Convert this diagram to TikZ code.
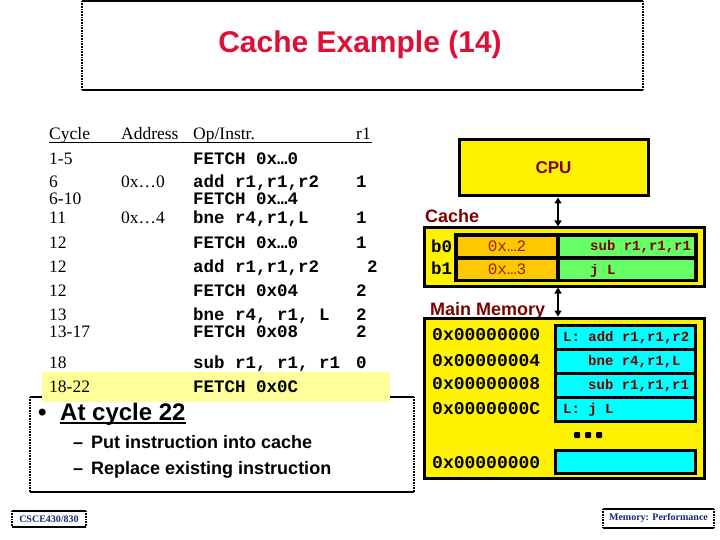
\documentclass[tikz,border=0pt]{standalone}
\usepackage{fontspec}
\setmainfont{Liberation Serif}
\setsansfont{Liberation Sans}
\setmonofont{Liberation Mono}
\usetikzlibrary{arrows.meta}
\definecolor{titlered}{RGB}{222,16,55}
\definecolor{darkmaroon}{RGB}{128,0,0}
\definecolor{tagred}{RGB}{150,35,10}
\definecolor{hlyellow}{RGB}{255,255,153}
\definecolor{tagorange}{RGB}{255,200,0}
\definecolor{datagreen}{RGB}{102,255,102}
\definecolor{memcyan}{RGB}{0,255,255}
\definecolor{footnavy}{RGB}{20,40,120}
\tikzset{
  ser/.style={anchor=base west, inner sep=0, font=\fontsize{17.5}{20}\selectfont},
  mon/.style={anchor=base west, inner sep=0, font=\fontsize{17.5}{20}\selectfont\ttfamily\bfseries},
  sidedot/.style={line width=1.6pt, dash pattern=on 0.8pt off 0.8pt},
  solidline/.style={line width=1.2pt},
  lbl/.style={anchor=base west, inner sep=0, font=\fontsize{18}{20}\selectfont\sffamily\bfseries, text=darkmaroon},
  addr/.style={anchor=base west, inner sep=0, font=\fontsize{18}{20}\selectfont\ttfamily\bfseries},
  celltxt/.style={anchor=base west, inner sep=0, font=\fontsize{14}{16}\selectfont\ttfamily\bfseries, text=darkmaroon},
  tagcell/.style={fill=tagorange, minimum width=98pt, minimum height=19pt, inner sep=0, font=\fontsize{16}{18}\selectfont\ttfamily, text=tagred},
  datacell/.style={fill=datagreen, minimum width=134pt, minimum height=19pt, inner sep=0},
  memcell/.style={draw, line width=3pt, fill=memcyan, minimum width=140pt, minimum height=24pt, inner sep=0, outer sep=0},
  bigbox/.style={draw, line width=3pt, fill=yellow, inner sep=0},
  busarrow/.style={{Triangle[length=6pt,width=7pt]}-{Triangle[length=6pt,width=7pt]}, line width=2.5pt},
  bul/.style={anchor=base west, inner sep=0, font=\fontsize{18}{20}\selectfont\sffamily\bfseries},
  foot/.style={inner sep=0, font=\fontsize{10}{12}\selectfont\rmfamily\bfseries, text=footnavy}
}
\begin{document}
\begin{tikzpicture}[x=1pt,y=-1pt]
\useasboundingbox (0,0) rectangle (720,540);

% ---------- title box ----------
\draw[solidline] (82,1) -- (643,1);
\draw[solidline] (82,90) -- (643,90);
\draw[sidedot] (82,1) -- (82,90);
\draw[sidedot] (643,1) -- (643,90);
\node[font=\fontsize{30}{33}\selectfont\sffamily\bfseries, text=titlered] (title) at (360,45) {Cache Example (14)};

% ---------- bullet text box ----------
\draw[solidline] (30,397) -- (414,397);
\draw[solidline] (30,492) -- (414,492);
\draw[sidedot] (30,397) -- (30,492);
\draw[sidedot] (414,397) -- (414,492);

% highlight
\fill[hlyellow] (42,372) rectangle (390,402);

\node[anchor=base west, inner sep=0, font=\fontsize{24}{26}\selectfont\sffamily\bfseries] (dot) at (38,420) {•};
\node[anchor=base west, inner sep=0, font=\fontsize{24}{26}\selectfont\sffamily\bfseries] (atc) at (60,420) {At cycle 22};
\draw[line width=1.4pt] (atc.base west) ++(0,3) -- ([yshift=-3pt]atc.base east);
\node[bul] (d1) at (73,448) {–};
\node[bul] (t1) at (91,448) {Put instruction into cache};
\node[bul] (d2) at (73,474) {–};
\node[bul] (t2) at (91,474) {Replace existing instruction};

% ---------- table ----------
\node[ser] (hc) at (49,140) {Cycle};
\node[ser] (ha) at (121,140) {Address};
\node[ser] (ho) at (193,140) {Op/Instr.};
\node[ser] (hr) at (356,140) {r1};
\draw[line width=1pt] (49,143) -- (372,143);

\node[ser] (c1) at (49,165) {1-5};
\node[mon] (o1) at (193,165) {FETCH 0x…0};

\node[ser] (c2) at (49,188) {6};
\node[ser] (a2) at (121,188) {0x…0};
\node[mon] (o2) at (193,188) {add r1,r1,r2};
\node[mon] (r2) at (356,188) {1};

\node[ser] (c3) at (49,205) {6-10};
\node[mon] (o3) at (193,205) {FETCH 0x…4};

\node[ser] (c4) at (49,223) {11};
\node[ser] (a4) at (121,223) {0x…4};
\node[mon] (o4) at (193,223) {bne r4,r1,L};
\node[mon] (r4) at (356,223) {1};

\node[ser] (c5) at (49,248) {12};
\node[mon] (o5) at (193,248) {FETCH 0x…0};
\node[mon] (r5) at (356,248) {1};

\node[ser] (c6) at (49,272) {12};
\node[mon] (o6) at (193,272) {add r1,r1,r2};
\node[mon] (r6) at (367,272) {2};

\node[ser] (c7) at (49,296) {12};
\node[mon] (o7) at (193,296) {FETCH 0x04};
\node[mon] (r7) at (356,296) {2};

\node[ser] (c8) at (49,320) {13};
\node[mon] (o8) at (193,320) {bne r4, r1, L};
\node[mon] (r8) at (356,320) {2};

\node[ser] (c9) at (49,337) {13-17};
\node[mon] (o9) at (193,337) {FETCH 0x08};
\node[mon] (r9) at (356,337) {2};

\node[ser] (c10) at (49,368) {18};
\node[mon] (o10) at (193,368) {sub r1, r1, r1};
\node[mon] (r10) at (356,368) {0};

\node[ser] (c11) at (49,392) {18-22};
\node[mon] (o11) at (193,392) {FETCH 0x0C};

% ---------- CPU ----------
\node[bigbox, minimum width=189pt, minimum height=56pt, font=\fontsize{17}{20}\selectfont\sffamily\bfseries, text=darkmaroon] (cpu) at (553.5,168) {CPU};

% ---------- cache ----------
\node[lbl] (cachelbl) at (425,222.5) {Cache};
\node[bigbox, minimum width=280pt, minimum height=58pt] (cache) at (564,257) {};
\fill[black] (454,233) rectangle (698,282);
\node[tagcell] (t0) at (507,246.5) {0x…2};
\node[tagcell] (t1c) at (507,269.5) {0x…3};
\node[datacell] (g0) at (627,246.5) {};
\node[datacell] (g1) at (627,269.5) {};
\node[celltxt] (g0t) at (590,251) {sub r1,r1,r1};
\node[celltxt] (g1t) at (590,274) {j L};
\node[mon] (b0) at (431,252) {b0};
\node[mon] (b1) at (431,274) {b1};

% ---------- memory ----------
\node[lbl] (memlbl) at (430,315.5) {Main Memory};
\node[bigbox, minimum width=280pt, minimum height=160pt] (mem) at (564,398) {};
\node[memcell] (m0) at (625.5,337) {};
\node[memcell] (m1) at (625.5,361) {};
\node[memcell] (m2) at (625.5,385) {};
\node[memcell] (m3) at (625.5,409) {};
\node[memcell, minimum height=23pt] (m4) at (625.5,462) {};
\node[celltxt] (m0t) at (563,341) {L: add r1,r1,r2};
\node[celltxt] (m1t) at (588,365) {bne r4,r1,L};
\node[celltxt] (m2t) at (588,389) {sub r1,r1,r1};
\node[celltxt] (m3t) at (563,413) {L: j L};
\node[addr] (ad0) at (432,340.5) {0x00000000};
\node[addr] (ad1) at (432,366.5) {0x00000004};
\node[addr] (ad2) at (432,389.5) {0x00000008};
\node[addr] (ad3) at (432,414.5) {0x0000000C};
\node[addr] (ad4) at (432,468.5) {0x00000000};
\fill[black, rounded corners=1pt] (574,432) rectangle (580,438);
\fill[black, rounded corners=1pt] (585,432) rectangle (591,438);
\fill[black, rounded corners=1pt] (596,432) rectangle (602,438);

% ---------- buses ----------
\coordinate (ax) at (558,0);
\draw[busarrow] (ax |- cpu.south) -- (ax |- cache.north);
\draw[busarrow] (ax |- cache.south) -- (ax |- mem.north);

% ---------- footers ----------
\draw[solidline] (12,511) -- (86,511);
\draw[solidline] (12,527) -- (86,527);
\draw[sidedot] (12,511) -- (12,527);
\draw[sidedot] (86,511) -- (86,527);
\node[foot] (fl) at (49,519) {CSCE430/830};

\draw[solidline] (603,509) -- (714,509);
\draw[solidline] (603,528) -- (714,528);
\draw[sidedot] (603,509) -- (603,528);
\draw[sidedot] (714,509) -- (714,528);
\node[foot] (fr) at (658.5,518.5) {Memory: Performance};
\end{tikzpicture}
\end{document}
